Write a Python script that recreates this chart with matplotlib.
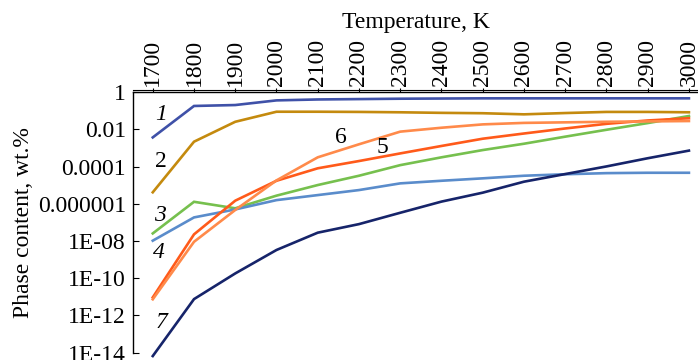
import matplotlib
matplotlib.use("Agg")
import matplotlib.pyplot as plt
from matplotlib.lines import Line2D

plt.rcParams['font.family'] = ['Liberation Serif', 'DejaVu Serif']

temps = [1700, 1800, 1900, 2000, 2100, 2200, 2300, 2400, 2500, 2600, 2700, 2800, 2900, 3000]

# log10 of phase content, wt.%
log1 = [-2.43, -0.74, -0.69, -0.44, -0.39, -0.37, -0.35, -0.34, -0.33, -0.33, -0.33, -0.33, -0.33, -0.33]
log2 = [-5.38, -2.66, -1.59, -1.05, -1.05, -1.06, -1.08, -1.11, -1.13, -1.19, -1.12, -1.06, -1.06, -1.08]
log3 = [-7.59, -5.89, -6.24, -5.56, -4.99, -4.49, -3.92, -3.50, -3.11, -2.77, -2.39, -2.02, -1.66, -1.28]
log4 = [-7.98, -6.73, -6.30, -5.80, -5.53, -5.26, -4.90, -4.76, -4.63, -4.49, -4.41, -4.35, -4.33, -4.33]
log5 = [-11.03, -7.64, -5.83, -4.76, -4.09, -3.70, -3.29, -2.89, -2.50, -2.22, -1.95, -1.70, -1.52, -1.40]
log6 = [-11.13, -8.04, -6.33, -4.74, -3.50, -2.80, -2.12, -1.91, -1.73, -1.65, -1.62, -1.59, -1.57, -1.55]
log7 = [-14.18, -11.12, -9.74, -8.48, -7.55, -7.09, -6.48, -5.88, -5.40, -4.81, -4.40, -3.99, -3.55, -3.14]

series = [log1, log2, log3, log4, log5, log6, log7]
colors = ['#3f51a8', '#c48a0e', '#76c04e', '#5a8ccb', '#ff5a1a', '#ff8a4a', '#16246a']

ytick_vals = [1e0, 1e-2, 1e-4, 1e-6, 1e-8, 1e-10, 1e-12, 1e-14]
ytick_labels = ['1', '0.01', '0.0001', '0.000001', '1E-08', '1E-10', '1E-12', '1E-14']

labels = ['1', '2', '3', '4', '5', '6', '7']
label_pos = [(1720, 10**-1.2), (1720, 10**-3.7), (1718, 10**-6.6), (1714, 10**-8.6),
             (2258, 10**-2.95), (2157, 10**-2.45), (1722, 10**-12.4)]
label_italic = [True, False, True, True, False, False, True]

fs = 17

fig = plt.figure(figsize=(6.98, 3.60), dpi=100)
ax = fig.add_axes([0.1905, 0.0203, 0.8095, 0.7236])

for vals, c in zip(series, colors):
    ax.plot(temps, [10**v for v in vals], color=c, lw=1.9, clip_on=False, solid_joinstyle='miter')

for t, (x, y), it in zip(labels, label_pos, label_italic):
    ax.text(x, y, t, fontsize=fs, ha='center', va='center',
            style='italic' if it else 'normal')

ax.set_yscale('log')
ax.set_xlim(1652, 3022)
ax.set_ylim(1e-14, 1)
ax.set_yticks(ytick_vals)
ax.set_yticklabels(ytick_labels)
ax.yaxis.set_minor_locator(matplotlib.ticker.NullLocator())
ax.set_xticks(temps)
ax.set_xticklabels([str(t) for t in temps], rotation=90)
ax.xaxis.tick_top()
ax.xaxis.set_label_position('top')
ax.set_xlabel('Temperature, K', fontsize=fs, labelpad=8)
ax.set_ylabel('Phase content, wt.%', fontsize=fs, labelpad=3)
ax.tick_params(axis='y', direction='in', length=4, labelsize=fs, pad=5)
ax.tick_params(axis='x', direction='out', length=3, labelsize=fs, pad=1.5)

for s in ['right', 'bottom']:
    ax.spines[s].set_visible(False)
ax.spines['top'].set_linewidth(1.0)
ax.spines['left'].set_linewidth(1.0)
ax.add_line(Line2D([0, 1], [1.008, 1.008], transform=ax.transAxes, color='black',
                   lw=0.8, clip_on=False))

fig.savefig('out.png', dpi=100)
